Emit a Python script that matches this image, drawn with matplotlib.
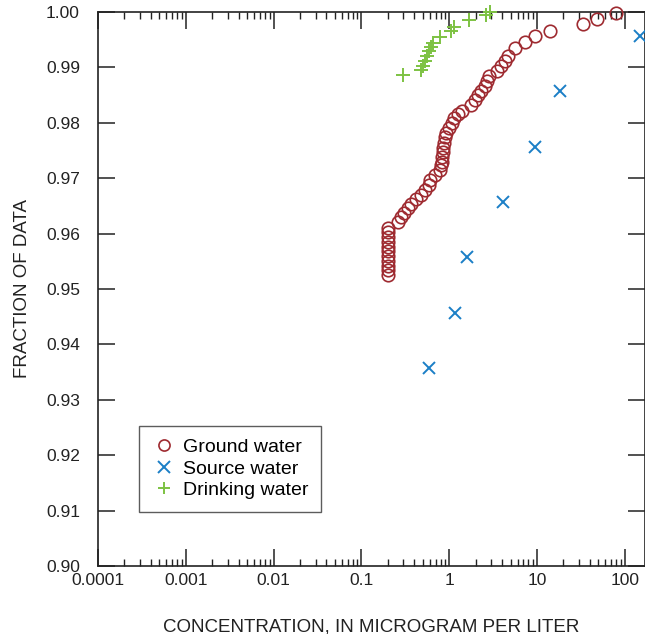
import matplotlib.pyplot as plt
from matplotlib.ticker import LogLocator, FixedLocator, NullFormatter

plt.rcParams['font.family'] = ['Liberation Sans', 'DejaVu Sans']

# ===================== data =====================
ground_conc = [0.2] * 11 + [
    0.261, 0.282, 0.306, 0.340, 0.367, 0.419, 0.477, 0.530, 0.589, 0.604,
    0.689, 0.786, 0.807, 0.828, 0.828, 0.850, 0.850, 0.873, 0.896, 0.920,
    0.995, 1.076, 1.134, 1.26, 1.40, 1.77, 1.97, 2.13, 2.30, 2.56,
    2.70, 2.84, 3.50, 3.89, 4.32, 4.67, 5.62, 7.30, 9.49, 14.1,
    33.4, 48.3, 79.4]
ground_frac = [
    0.9525, 0.9534, 0.9542, 0.9551, 0.9559, 0.9568, 0.9576, 0.9585, 0.9593, 0.9602,
    0.9610,
    0.9621, 0.9630, 0.9638, 0.9647, 0.9654, 0.9663, 0.9670, 0.9679, 0.9688, 0.9696,
    0.9705, 0.9714, 0.9723, 0.9730, 0.9739, 0.9748, 0.9755, 0.9764, 0.9774, 0.9781,
    0.9790, 0.9799, 0.9808, 0.9815, 0.9821, 0.9832, 0.9841, 0.9850, 0.9857, 0.9866,
    0.9875, 0.9884, 0.9893, 0.9902, 0.9911, 0.9920, 0.9935, 0.9946, 0.9957, 0.9966,
    0.9978, 0.9987, 0.9998]

source_conc = [0.589, 1.16, 1.59, 4.10, 9.49, 18.3, 149]
source_frac = [0.9357, 0.9457, 0.9557, 0.9657, 0.9757, 0.9857, 0.9957]

drink_conc = [0.298, 0.477, 0.503, 0.530, 0.559, 0.589, 0.621, 0.654, 0.786,
              1.05, 1.134, 1.68, 2.62, 2.92]
drink_frac = [0.9886, 0.9895, 0.9902, 0.9911, 0.9920, 0.9929, 0.9937, 0.9944,
              0.9955, 0.9966, 0.9973, 0.9986, 0.9995, 1.0000]

x_ticks = [0.0001, 0.001, 0.01, 0.1, 1, 10, 100]
x_labels = ["0.0001", "0.001", "0.01", "0.1", "1", "10", "100"]
y_ticks = [0.90, 0.91, 0.92, 0.93, 0.94, 0.95, 0.96, 0.97, 0.98, 0.99, 1.00]

# ===================== figure =====================
fig = plt.figure(figsize=(6.45, 6.34), dpi=100)
ax = fig.add_axes([0.152, 0.1073, 0.848, 0.8738])

red = "#9e2a30"
blue = "#1b7fc6"
green = "#7dc242"
ink = '#222222'

ax.plot(ground_conc, ground_frac, linestyle='none', marker='o', ms=9,
        mfc='none', mec=red, mew=1.2, label="Ground water", clip_on=False, zorder=3)
ax.plot(source_conc, source_frac, linestyle='none', marker='x', ms=9,
        mec=blue, mew=1.4, label="Source water", clip_on=False, zorder=3)
ax.plot(drink_conc, drink_frac, linestyle='none', marker='+', ms=10.5,
        mec=green, mew=1.4, label="Drinking water", clip_on=False, zorder=3)

ax.set_xscale('log')
ax.set_xlim(1e-4, 170)
ax.set_ylim(0.90, 1.00)

ax.set_xticks(x_ticks)
ax.set_xticklabels(x_labels)
ax.xaxis.set_minor_locator(LogLocator(base=10, subs=range(2, 10), numticks=20))
ax.xaxis.set_minor_formatter(NullFormatter())
ax.yaxis.set_major_locator(FixedLocator(y_ticks))
ax.set_yticklabels([f"{v:.2f}" for v in y_ticks])

ax.tick_params(axis='x', which='major', direction='in', length=12, width=1.1,
               top=True, bottom=True, labelsize=12.5, pad=5, colors=ink)
ax.tick_params(axis='x', which='minor', direction='in', length=5, width=1.0,
               top=True, bottom=True, colors=ink)
ax.tick_params(axis='y', which='major', direction='in', length=12, width=1.1,
               left=True, right=True, labelsize=12.5, pad=13, colors=ink)

for s in ax.spines.values():
    s.set_linewidth(1.2)
    s.set_color(ink)

ax.set_xlabel("CONCENTRATION, IN MICROGRAM PER LITER", fontsize=13.5,
              labelpad=22, color=ink)
ax.set_ylabel("FRACTION OF DATA", fontsize=13.5, labelpad=11, color=ink)

leg = ax.legend(loc='lower left', bbox_to_anchor=(0.075, 0.098), frameon=True,
                fancybox=False, edgecolor='#333333', fontsize=14,
                handletextpad=0.3, handlelength=1.3, borderpad=0.65,
                labelspacing=0.2, borderaxespad=0)
leg.get_frame().set_linewidth(1.0)
for h in leg.legend_handles:
    h.set_markersize(8)

fig.savefig("out.png", dpi=100)
